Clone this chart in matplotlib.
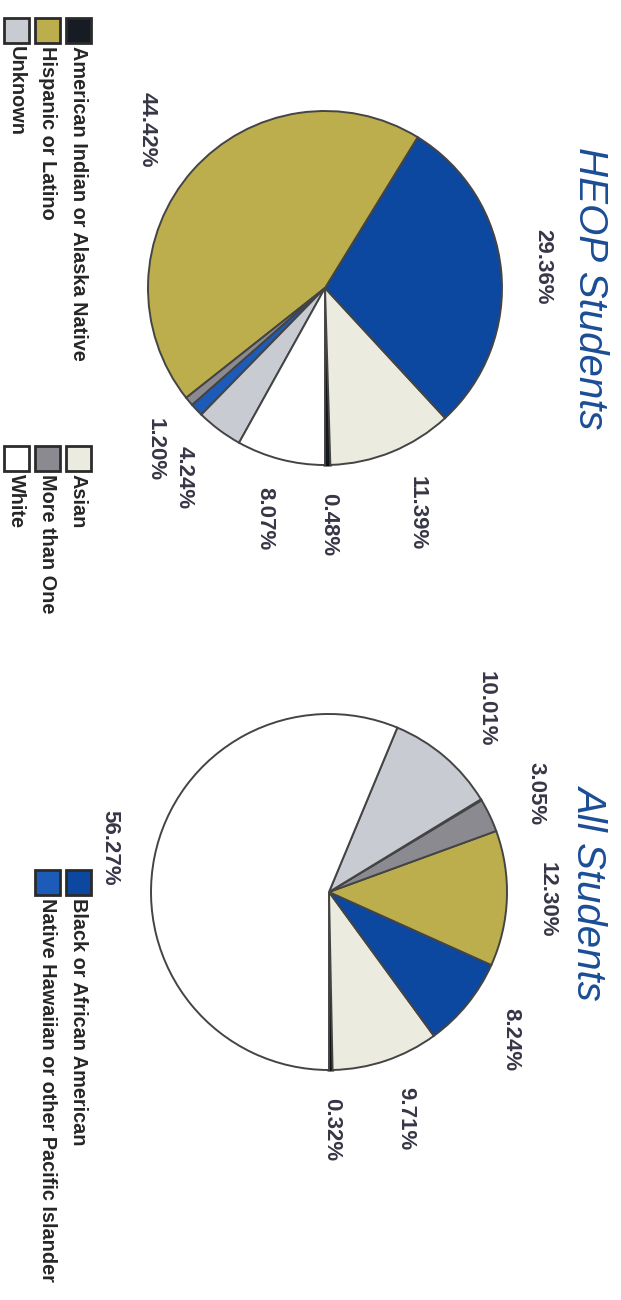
import numpy as np
import matplotlib.pyplot as plt
from matplotlib.patches import Rectangle

# data (the page is scanned sideways, so everything is drawn rotated)
categories = ['American Indian or Alaska Native', 'Asian', 'Black or African American',
              'Hispanic or Latino', 'More than One',
              'Native Hawaiian or other Pacific Islander', 'Unknown', 'White']
heop_pct = [0.48, 11.39, 29.36, 44.42, 0.84, 1.20, 4.24, 8.07]
heop_labels = ['0.48%', '11.39%', '29.36%', '44.42%', '', '1.20%', '4.24%', '8.07%']
all_pct = [0.32, 9.71, 8.24, 12.30, 3.05, 0.10, 10.01, 56.27]
all_labels = ['0.32%', '9.71%', '8.24%', '12.30%', '3.05%', '', '10.01%', '56.27%']
titles = ['HEOP Students', 'All Students']

colors = ['#161b24', '#ecebdf', '#0c47a0', '#bcae4c', '#8a8a90', '#1d5bb8', '#c9cbd2', '#ffffff']
title_color = '#1b4d96'
label_color = '#363646'

W, H = 621, 1300
fig = plt.figure(figsize=(W / 100, H / 100), dpi=100)
ax = fig.add_axes([0, 0, 1, 1])


def draw_pie(values, labels, center, radius):
    wedges, texts = ax.pie(values, labels=labels, colors=colors, startangle=90,
                           counterclock=False, center=center, radius=radius,
                           wedgeprops=dict(edgecolor='#444444', linewidth=1.4))
    # the tiny first slice shows as a heavy black stroke in the scan
    wedges[0].set_edgecolor('#111111')
    wedges[0].set_linewidth(2.2)
    for t in texts:
        t.set_rotation(270)
        t.set_ha('center')
        t.set_va('center')
        t.set_fontsize(16)
        t.set_fontweight('bold')
        t.set_color(label_color)
        t.set_family('Liberation Sans')
    return wedges, texts


pies = [draw_pie(heop_pct, heop_labels, (325, 288), 177),
        draw_pie(all_pct, all_labels, (329, 892), 178)]

ax.set_xlim(0, W)
ax.set_ylim(H, 0)
ax.set_aspect('equal')
ax.axis('off')

# titles
for title, (wedges, _) in zip(titles, pies):
    cy = wedges[0].center[1]
    ax.text(590, cy, title, rotation=270, ha='center', va='center', fontsize=29,
            style='italic', color=title_color, family='Liberation Sans')

# legend, 3 columns filled row by row
col_y = [30, 458, 882]
row_x = [78, 47, 16]
sq = 25
for i, (cat, c) in enumerate(zip(categories, colors)):
    x, y = row_x[i // 3], col_y[i % 3]
    ax.add_patch(Rectangle((x - sq / 2, y - sq / 2), sq, sq, facecolor=c,
                           edgecolor='#2b2b2b', linewidth=2))
    ax.text(x, y + sq / 2 + 3, cat, rotation=270, ha='center', va='top',
            fontsize=14.3, fontweight='bold', color='#262626', family='Liberation Sans')

# push percentage labels out so the box edge sits a fixed gap from the rim
fig.canvas.draw()
renderer = fig.canvas.get_renderer()
gap = 28
for wedges, texts in pies:
    for w, t in zip(wedges, texts):
        if not t.get_text():
            continue
        ang = np.deg2rad((w.theta1 + w.theta2) / 2)
        bb = t.get_window_extent(renderer)
        dx, dy = np.cos(ang), np.sin(ang)
        d = w.r + gap + abs(dx) * bb.width / 2 + abs(dy) * bb.height / 2
        t.set_position((w.center[0] + d * dx, w.center[1] + d * dy))

fig.savefig('out.png', dpi=100, facecolor='white')
